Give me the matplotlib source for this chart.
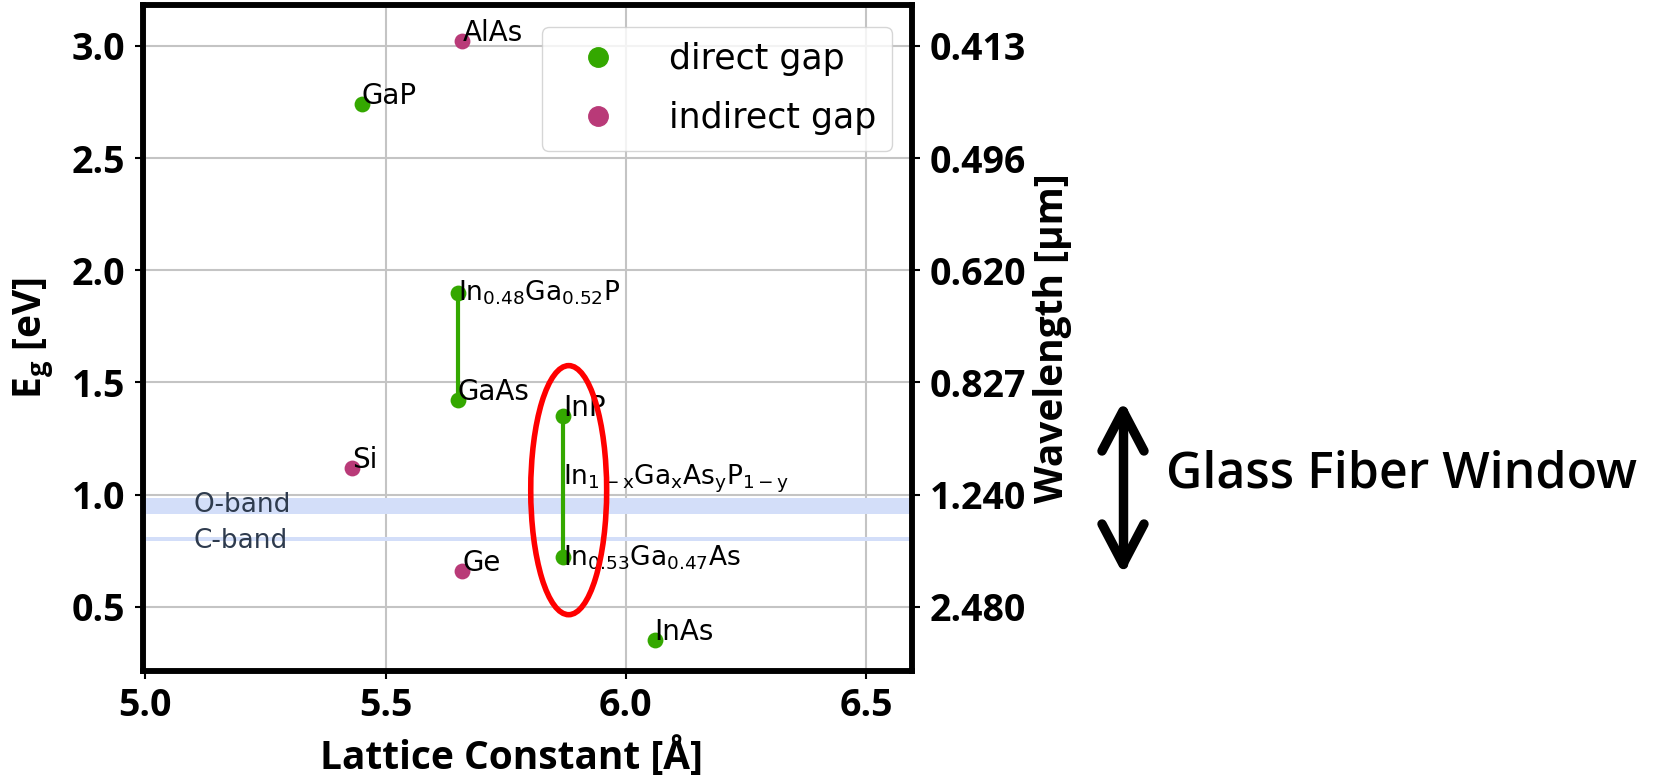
import matplotlib
matplotlib.use("Agg")
import matplotlib.pyplot as plt
from matplotlib.lines import Line2D
from matplotlib.patches import Ellipse

# lattice constant [A], band gap [eV]
direct_names = ["GaP", "GaAs", "InP", "InAs"]
direct_a = [5.45, 5.65, 5.87, 6.06]
direct_eg = [2.74, 1.42, 1.35, 0.354]

indirect_names = ["AlAs", "Si", "Ge"]
indirect_a = [5.66, 5.43, 5.66]
indirect_eg = [3.02, 1.12, 0.66]

# ternary / quaternary alloys lattice matched to GaAs and InP
ingap_a, ingap_eg = 5.65, 1.90
ingaas_a, ingaas_eg = 5.87, 0.72

# telecom bands [um]
o_band = (1.26, 1.36)
c_band = (1.53, 1.565)

eg_ticks = [0.5, 1.0, 1.5, 2.0, 2.5, 3.0]
x_ticks = [5.0, 5.5, 6.0, 6.5]

green = "#34a800"
purple = "#b93a78"
band_col = "#d3def9"

tick_kw = dict(fontfamily="Open Sans", fontweight="bold", fontsize=27)
label_kw = dict(fontfamily="Open Sans", fontweight="bold", fontsize=28)

W, H = 1666, 780
fig = plt.figure(figsize=(W / 100, H / 100), dpi=100)
ax = fig.add_axes([0.0858, 0.140, 0.4615, 0.853])

ax.grid(True, color="#c4c4c4", lw=1.5, zorder=0)
ax.set_axisbelow(True)

# bands, E = 1.24 / lambda
ax.axhspan(1.24 / o_band[1], 1.24 / o_band[0], color=band_col, lw=0, zorder=1)
ax.axhspan(1.24 / c_band[1], 1.24 / c_band[0], color=band_col, lw=0, zorder=1)
ax.text(5.1, (1.24 / o_band[1] + 1.24 / o_band[0]) / 2 + 0.005, "O-band", fontsize=19,
        color="#2e3b4e", va="center", zorder=2)
ax.text(5.1, (1.24 / c_band[1] + 1.24 / c_band[0]) / 2 - 0.01, "C-band", fontsize=19,
        color="#2e3b4e", va="center", zorder=2)

# alloy lines
ax.plot([ingap_a, direct_a[1]], [ingap_eg, direct_eg[1]], color=green, lw=3, zorder=3)
ax.plot([direct_a[2], ingaas_a], [direct_eg[2], ingaas_eg], color=green, lw=3, zorder=3)

ax.scatter(direct_a + [ingap_a, ingaas_a], direct_eg + [ingap_eg, ingaas_eg],
           s=130, color=green, zorder=4, lw=0)
ax.scatter(indirect_a, indirect_eg, s=130, color=purple, zorder=4, lw=0)

for n, a, e in zip(direct_names + indirect_names, direct_a + indirect_a,
                   direct_eg + indirect_eg):
    ax.text(a, e, n, fontsize=20, ha="left", va="baseline", zorder=5)

ax.text(ingap_a, ingap_eg, r"In$_{0.48}$Ga$_{0.52}$P", fontsize=19, ha="left", va="center", zorder=5)
ax.text(ingaas_a, ingaas_eg, r"In$_{0.53}$Ga$_{0.47}$As", fontsize=19, ha="left", va="center", zorder=5)
ax.text(ingaas_a, 1.07, r"In$_{\mathrm{1-x}}$Ga$_\mathrm{x}$As$_\mathrm{y}$P$_{\mathrm{1-y}}$",
        fontsize=19, ha="left", va="center", zorder=5)

ax.add_patch(Ellipse((5.881, 1.02), 0.158, 1.11, fill=False, edgecolor="red", lw=4, zorder=6))

ax.set_xlim(4.995, 6.595)
ax.set_ylim(0.215, 3.18)
ax.set_xticks(x_ticks)
ax.set_yticks(eg_ticks)
ax.set_xticklabels([f"{v:.1f}" for v in x_ticks], **tick_kw)
ax.set_yticklabels([f"{v:.1f}" for v in eg_ticks], **tick_kw)
ax.set_xlabel("Lattice Constant [Å]", **label_kw)
ax.set_ylabel(r"E$_\mathregular{g}$ [eV]", **label_kw)
ax.xaxis.set_label_coords(0.48, -0.10)
ax.yaxis.set_label_coords(-0.115, 0.5)
ax.tick_params(axis="y", length=6, width=1.5, pad=7)
ax.tick_params(axis="x", length=6, width=1.5, pad=6)

ax2 = ax.twinx()
ax2.set_ylim(ax.get_ylim())
ax2.set_yticks(eg_ticks)
ax2.set_yticklabels([f"{1.24 / v:.3f}" for v in eg_ticks], **tick_kw)
ax2.set_ylabel("Wavelength [µm]", **label_kw)
ax2.yaxis.set_label_coords(1.157, 0.5)
ax2.tick_params(length=6, width=1.5, pad=7)

for a in (ax, ax2):
    for sp in a.spines.values():
        sp.set_linewidth(4)
        sp.set_color("black")

handles = [Line2D([], [], ls="", marker="o", ms=14, color=green),
           Line2D([], [], ls="", marker="o", ms=14, color=purple)]
leg = ax.legend(handles, ["direct gap", "indirect gap"], loc="upper right",
                bbox_to_anchor=(0.974, 0.968), borderaxespad=0, fontsize=25,
                handlelength=2.3, handletextpad=0.9, borderpad=0.45, labelspacing=0.72,
                framealpha=0.8)
leg.set_zorder(7)

# double arrow for the fiber window, drawn in figure pixels
ax_x = 1123
y_top, y_bot = 411, 564
hw, hl = 21, 40


def fig_line(xs, ys):
    fig.add_artist(Line2D([x / W for x in xs], [1 - y / H for y in ys], transform=fig.transFigure,
                          color="black", lw=6.8, solid_capstyle="round", solid_joinstyle="round"))


fig_line([ax_x, ax_x], [y_top, y_bot])
fig_line([ax_x - hw, ax_x, ax_x + hw], [y_top + hl, y_top, y_top + hl])
fig_line([ax_x - hw, ax_x, ax_x + hw], [y_bot - hl, y_bot, y_bot - hl])

fig.text(0.700, 0.392, "Glass Fiber Window", fontfamily="Open Sans", fontweight="semibold",
         fontsize=36, ha="left", va="center")

fig.savefig("out.png", dpi=100)
